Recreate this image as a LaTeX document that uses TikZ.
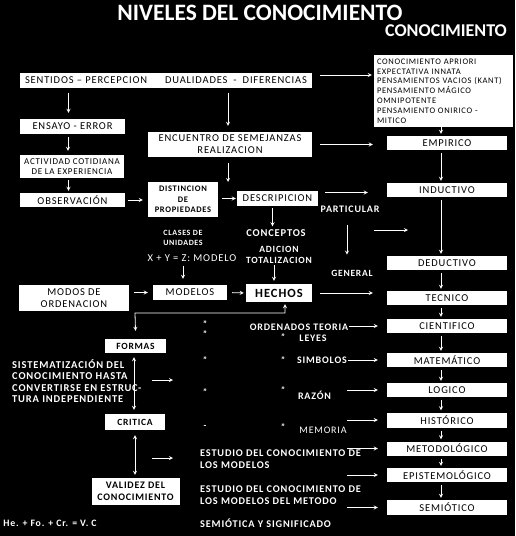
\documentclass[tikz,border=0pt]{standalone}
\usepackage{fontspec}
\setmainfont{Carlito}
\newfontfamily\spaced[LetterSpace=8]{Carlito}
\usetikzlibrary{positioning}

\begin{document}
\begin{tikzpicture}[x=1pt, y=-1pt, node distance=30pt]
\tikzstyle{box} = [rectangle, fill=white, text=black, inner sep=0pt, align=center, font=\spaced\fontsize{10.5}{12}\selectfont]
\tikzstyle{boldbox} = [box, font=\spaced\bfseries\fontsize{9.5}{11.5}\selectfont]
\tikzstyle{level} = [box, minimum width=120pt, minimum height=14pt]
\tikzstyle{txt} = [text=white, inner sep=0pt, align=center, font=\spaced\bfseries\fontsize{10}{12}\selectfont]
\tikzstyle{ditto} = [txt, font=\bfseries\fontsize{9}{9}\selectfont]
\tikzstyle{arrow} = [white, line width=0.8pt, ->, >=stealth]

\path[use as bounding box] (0,0) rectangle (515,536);
\fill[black] (0,0) rectangle (515,536);

\node (title) [txt, font=\bfseries\fontsize{23.5}{25}\selectfont] at (260,13) {NIVELES DEL CONOCIMIENTO};
\node (subtitle) [txt, font=\bfseries\fontsize{18}{20}\selectfont] at (446,31) {CONOCIMIENTO};

% columna izquierda
\node (sentidos) [box, minimum width=292pt, minimum height=15pt] at (166,80) {SENTIDOS – PERCEPCION\hspace{18pt}DUALIDADES\hspace{6pt}-\hspace{6pt}DIFERENCIAS};
\node (ensayo) [box, minimum width=105pt, minimum height=15pt] at (72.5,126.5) {ENSAYO - ERROR};
\node (actividad) [box, minimum width=104pt, minimum height=23pt, font=\spaced\fontsize{9}{10.5}\selectfont] at (72,166.5) {ACTIVIDAD COTIDIANA\\DE LA EXPERIENCIA};
\node (observacion) [box, minimum width=105pt, minimum height=14pt] at (72.5,200) {OBSERVACIÓN};
\node (encuentro) [box, minimum width=164pt, minimum height=25pt] at (230,144.5) {ENCUENTRO DE SEMEJANZAS\\REALIZACION};
\node (distincion) [boldbox, minimum width=70pt, minimum height=35pt, font=\spaced\bfseries\fontsize{8.5}{10.5}\selectfont] at (183,199.5) {DISTINCION\\DE\\PROPIEDADES};
\node (descripcion) [box, minimum width=81pt, minimum height=15pt] at (277.5,198.5) {DESCRIPICION};
\node (clases) [txt, font=\spaced\bfseries\fontsize{8}{10}\selectfont] at (183,238) {CLASES DE\\UNIDADES};
\node (modeloeq) [txt, font=\spaced\fontsize{10.5}{12}\selectfont] at (192,258) {X + Y = Z: MODELO};
\node (conceptos) [txt, font=\spaced\bfseries\fontsize{10.5}{12}\selectfont] at (276,233) {CONCEPTOS};
\node (adicion) [txt, font=\spaced\bfseries\fontsize{9.5}{11}\selectfont] at (279,254.5) {ADICION\\TOTALIZACION};
\node (particular) [txt] at (350,209) {PARTICULAR};
\node (general) [txt, font=\spaced\bfseries\fontsize{9.5}{11}\selectfont] at (352,273) {GENERAL};
\node (modos) [box, minimum width=110pt, minimum height=26pt] at (74,298) {MODOS DE\\ORDENACION};
\node (modelos) [box, minimum width=74pt, minimum height=15pt] at (190,292.5) {MODELOS};
\node (hechos) [boldbox, minimum width=66pt, minimum height=18pt, font=\spaced\bfseries\fontsize{12.5}{14}\selectfont] at (279,293) {HECHOS};
\node (formas) [boldbox, minimum width=61pt, minimum height=14pt] at (135.5,346) {FORMAS};
\node (sistem) [txt, anchor=west, align=left, font=\spaced\bfseries\fontsize{10.5}{11.5}\selectfont] at (12,381) {SISTEMATIZACIÓN DEL\\CONOCIMIENTO HASTA\\CONVERTIRSE EN ESTRUC-\\TURA INDEPENDIENTE};
\node (critica) [boldbox, minimum width=60pt, minimum height=16pt] at (135,422) {CRITICA};
\node (validez) [boldbox, minimum width=88pt, minimum height=27pt, font=\spaced\bfseries\fontsize{10}{12}\selectfont] at (135.5,491.5) {VALIDEZ DEL\\CONOCIMIENTO};
\node (formula) [txt, font=\spaced\bfseries\fontsize{9.8}{11}\selectfont] at (50,523) {He. + Fo. + Cr. = V. C};

% textos del centro
\node (ordenados) [txt] at (299,327) {ORDENADOS TEORIA};
\node (leyes) [txt] at (313,338) {LEYES};
\node (simbolos) [txt] at (322,360) {SIMBOLOS};
\node (razon) [txt] at (314.5,395) {RAZÓN};
\node (memoria) [txt, font=\spaced\fontsize{10}{12}\selectfont] at (323,430) {MEMORIA};
\node (estudio1) [txt, anchor=west, align=left, font=\spaced\bfseries\fontsize{10.3}{12}\selectfont] at (200,459) {ESTUDIO DEL CONOCIMIENTO DE\\LOS MODELOS};
\node (estudio2) [txt, anchor=west, align=left, font=\spaced\bfseries\fontsize{10.3}{12}\selectfont] at (200,495) {ESTUDIO DEL CONOCIMIENTO DE\\LOS MODELOS DEL METODO};
\node (semiotica) [txt, anchor=west, font=\spaced\bfseries\fontsize{10.3}{12}\selectfont] at (200,523) {SEMIÓTICA Y SIGNIFICADO};
\foreach \y in {324,334,360,392}
  \node [ditto] at (205,\y) {"};
\node [ditto] at (205,427) {-};
\foreach \y in {337,360,390,427}
  \node [ditto] at (283,\y) {"};

% columna derecha
\node (apriori) [box, align=left, text width=133pt, inner xsep=3pt, minimum height=72pt, font=\spaced\fontsize{8.5}{9.8}\selectfont] at (443.5,91) {CONOCIMIENTO APRIORI\\EXPECTATIVA INNATA\\PENSAMIENTOS VACIOS (KANT)\\PENSAMIENTO MÁGICO\\OMNIPOTENTE\\PENSAMIENTO ONIRICO -\\MITICO};
\node (empirico) [level] at (447,143) {EMPIRICO};
\node (inductivo) [level, below of=empirico, node distance=47pt] {INDUCTIVO};
\node (deductivo) [level, below of=inductivo, node distance=73pt] {DEDUCTIVO};
\node (tecnico) [level, below of=deductivo, node distance=35pt] {TECNICO};
\node (cientifico) [level, below of=tecnico, node distance=28pt] {CIENTIFICO};
\node (matematico) [level, below of=cientifico, node distance=34pt] {MATEMÁTICO};
\node (logico) [level, below of=matematico, node distance=30pt] {LOGICO};
\node (historico) [level, below of=logico, node distance=30pt, minimum height=15pt] {HISTÓRICO};
\node (metodologico) [level, below of=historico, node distance=28.5pt] {METODOLÓGICO};
\node (epistemologico) [level, below of=metodologico, node distance=26.5pt] {EPISTEMOLÓGICO};
\node (semiotico) [level, below of=epistemologico, node distance=32.5pt, minimum height=15pt] {SEMIÓTICO};

\coordinate (encend) at (228,182);
\coordinate (partfrom) at (374,230);
\coordinate (partto) at (408,230);
\coordinate (bend) at (135,313);
\coordinate (sisfrom) at (152,380);
\coordinate (systo) at (173,380);
\coordinate (valfrom) at (152,458);
\coordinate (valto) at (173,458);
\coordinate (col) at (347,0);

\draw [arrow, shorten <=5pt, shorten >=6pt] ([xshift=-4pt]sentidos.south -| ensayo.north) -- ([xshift=-4pt]ensayo.north);
\draw [arrow, shorten <=5pt, shorten >=6pt] ([xshift=-2pt]sentidos.south -| encuentro.north) -- ([xshift=-2pt]encuentro.north);
\draw [arrow, shorten <=8pt, shorten >=2pt] ([yshift=5pt]sentidos.east) -- ([yshift=5pt]sentidos.east -| apriori.west);
\draw [arrow, shorten <=3pt, shorten >=4pt] ([xshift=-4pt]ensayo.south -| actividad.north) -- ([xshift=-4pt]actividad.north);
\draw [arrow, shorten <=2pt, shorten >=2pt] ([xshift=-4pt]actividad.south -| observacion.north) -- ([xshift=-4pt]observacion.north);
\draw [arrow, shorten <=3pt, shorten >=5pt] (observacion.east) -- (observacion.east -| distincion.west);
\draw [arrow, shorten <=6pt] (encend |- encuentro.south) -- (encend);
\draw [arrow, shorten <=4pt, shorten >=1pt] (distincion.east |- descripcion.west) -- (descripcion.west);
\draw [arrow, shorten <=8pt, shorten >=14pt] (encuentro.east) -- (encuentro.east -| empirico.west);
\draw [arrow, shorten <=7pt, shorten >=19pt] ([yshift=6pt]descripcion.east) -- ([yshift=6pt]descripcion.east -| inductivo.west);
\draw [arrow, shorten <=2pt, shorten >=3pt] ([xshift=-5pt]descripcion.south) -- ([xshift=-5pt]descripcion.south |- conceptos.north);
\draw [arrow, shorten <=12pt, shorten >=15pt] ([xshift=-3pt]particular.south) -- ([xshift=-3pt]particular.south |- general.north);
\draw [arrow] (partfrom) -- (partto);
\draw [arrow, shorten <=4pt, shorten >=6pt] ([xshift=-7pt]modelos.north |- modeloeq.south) -- ([xshift=-7pt]modelos.north);
\draw [arrow, shorten <=2pt, shorten >=3pt] ([xshift=-5pt]hechos.north |- adicion.south) -- ([xshift=-5pt]hechos.north);
\draw [arrow, shorten <=5pt, shorten >=5pt] (modos.east |- modelos.west) -- (modelos.west);
\draw [arrow, shorten <=5pt, shorten >=2pt] (modelos.east) -- (hechos.west);
\draw [arrow, shorten <=8pt, shorten >=14pt] (hechos.east) -- (hechos.east -| tecnico.west);
\draw [arrow, <->] ([yshift=8pt]formas.north) -- (bend) -| ([xshift=6pt,yshift=-2pt]hechos.south);
\draw [arrow, <->, shorten <=4pt, shorten >=4pt] ([xshift=-1.5pt]formas.south) -- ([xshift=-1.5pt]formas.south |- critica.north);
\draw [arrow, <->, shorten <=5pt, shorten >=3pt] (critica.south) -- (critica.south |- validez.north);
\draw [arrow] (sisfrom) -- (systo);
\draw [arrow] (valfrom) -- (valto);
\draw [arrow, shorten <=1pt, shorten >=9pt] (ordenados.east |- cientifico.west) -- (cientifico.west);
\draw [arrow, shorten <=1pt, shorten >=9pt] (simbolos.east |- matematico.west) -- (matematico.west);
\foreach \lvl in {logico,historico,metodologico,epistemologico,semiotico}
  \draw [arrow, shorten >=9pt] (col |- \lvl.west) -- (\lvl.west);

% flechas entre niveles
\draw [arrow, shorten >=2pt] ([xshift=-6pt]empirico.north |- apriori.south) -- ([xshift=-6pt]empirico.north);
\foreach \a/\b in {empirico/inductivo, inductivo/deductivo, deductivo/tecnico, tecnico/cientifico, cientifico/matematico, matematico/logico, logico/historico, historico/metodologico, metodologico/epistemologico, epistemologico/semiotico}
  \draw [arrow, shorten <=3pt, shorten >=2pt] ([xshift=-6pt]\a.south) -- ([xshift=-6pt]\b.north);

\end{tikzpicture}
\end{document}
